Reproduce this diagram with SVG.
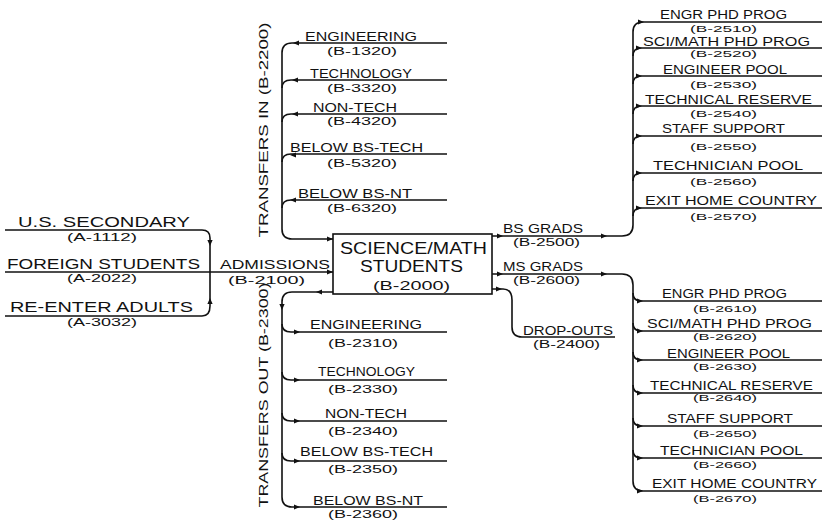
<svg xmlns="http://www.w3.org/2000/svg" xmlns:xlink="http://www.w3.org/1999/xlink" width="825" height="523" viewBox="0 0 825 523">
<style>
text{font-family:"Liberation Sans","DejaVu Sans",Arial,sans-serif;fill:#111;}
.lg{font-size:15px;}
.md{font-size:13px;}
.sm{font-size:12px;}
.cd{font-size:10px;}
.cs{font-size:9px;}
.bx{font-size:16px;}
.ln{fill:none;stroke:#111;stroke-width:1.6;}
.box{fill:#fff;stroke:#111;stroke-width:1.6;}
.ar{fill:#111;}
</style>
<defs>
<path id="ah" class="ar" d="M0,0 L-6,-2.6 L-6,2.6 Z"/>
</defs>
<rect width="825" height="523" fill="#fff"/>

<g id="connectors">
<!-- inputs -->
<path class="ln" d="M5,230 H202 Q210,230 210,238 V306 Q210,316 202,316 H5"/>
<path class="ln" d="M5,272 H333"/>
<use xlink:href="#ah" transform="translate(210,246) rotate(90)"/>
<use xlink:href="#ah" transform="translate(210,298) rotate(-90)"/>
<use xlink:href="#ah" transform="translate(333,272)"/>
<!-- transfers in -->
<path class="ln" d="M447,43 H292 Q282,43 282,53 V229 Q282,239 292,239 H333"/>
<path class="ln" d="M447,80 H291 Q282,80 282,88"/>
<path class="ln" d="M447,114 H291 Q282,114 282,122"/>
<path class="ln" d="M447,154 H291 Q282,154 282,162"/>
<path class="ln" d="M447,200 H291 Q282,200 282,208"/>
<use xlink:href="#ah" transform="translate(293,43) rotate(180)"/>
<use xlink:href="#ah" transform="translate(292,80) rotate(180)"/>
<use xlink:href="#ah" transform="translate(292,114) rotate(180)"/>
<use xlink:href="#ah" transform="translate(290,155) rotate(180)"/>
<use xlink:href="#ah" transform="translate(290,200) rotate(180)"/>
<use xlink:href="#ah" transform="translate(333,239)"/>
<!-- transfers out -->
<path class="ln" d="M333,292 H292 Q282,292 282,302 V497 Q282,507 292,507 H447"/>
<path class="ln" d="M282,324 Q282,332 291,332 H447"/>
<path class="ln" d="M282,372 Q282,380 291,380 H447"/>
<path class="ln" d="M282,413 Q282,421 291,421 H447"/>
<path class="ln" d="M282,453 Q282,461 291,461 H447"/>
<use xlink:href="#ah" transform="translate(316,292) rotate(180)"/>
<use xlink:href="#ah" transform="translate(282,310) rotate(90)"/>
<use xlink:href="#ah" transform="translate(300,332)"/>
<use xlink:href="#ah" transform="translate(300,380)"/>
<use xlink:href="#ah" transform="translate(300,421)"/>
<use xlink:href="#ah" transform="translate(300,461)"/>
<use xlink:href="#ah" transform="translate(300,507)"/>
<!-- BS grads -->
<path class="ln" d="M492,236 H622 Q633,236 633,225 V32 Q633,22 643,22 H822"/>
<path class="ln" d="M633,56 Q633,48 641,48 H822"/>
<path class="ln" d="M633,84 Q633,76 641,76 H822"/>
<path class="ln" d="M633,114 Q633,106 641,106 H822"/>
<path class="ln" d="M633,144 Q633,136 641,136 H822"/>
<path class="ln" d="M633,181 Q633,173 641,173 H822"/>
<path class="ln" d="M633,216 Q633,208 641,208 H822"/>
<use xlink:href="#ah" transform="translate(503,236)"/>
<use xlink:href="#ah" transform="translate(607,236)"/>
<use xlink:href="#ah" transform="translate(644,22)"/>
<use xlink:href="#ah" transform="translate(642,48)"/>
<use xlink:href="#ah" transform="translate(642,76)"/>
<use xlink:href="#ah" transform="translate(642,106)"/>
<use xlink:href="#ah" transform="translate(642,136)"/>
<use xlink:href="#ah" transform="translate(642,173)"/>
<use xlink:href="#ah" transform="translate(642,208)"/>
<!-- MS grads -->
<path class="ln" d="M492,274 H622 Q633,274 633,285 V481 Q633,491 643,491 H822"/>
<path class="ln" d="M633,293 Q633,301 641,301 H822"/>
<path class="ln" d="M633,323 Q633,331 641,331 H822"/>
<path class="ln" d="M633,352 Q633,360 641,360 H822"/>
<path class="ln" d="M633,385 Q633,393 641,393 H822"/>
<path class="ln" d="M633,418 Q633,426 641,426 H822"/>
<path class="ln" d="M633,450 Q633,458 641,458 H822"/>
<use xlink:href="#ah" transform="translate(503,274)"/>
<use xlink:href="#ah" transform="translate(607,274)"/>
<use xlink:href="#ah" transform="translate(643,301)"/>
<use xlink:href="#ah" transform="translate(643,331)"/>
<use xlink:href="#ah" transform="translate(643,360)"/>
<use xlink:href="#ah" transform="translate(643,393)"/>
<use xlink:href="#ah" transform="translate(643,426)"/>
<use xlink:href="#ah" transform="translate(643,458)"/>
<use xlink:href="#ah" transform="translate(643,491)"/>
<!-- drop-outs -->
<path class="ln" d="M492,289 H503 Q512,289 512,300 V327 Q512,337 522,337 H615"/>
<use xlink:href="#ah" transform="translate(502,289)"/>
</g>

<g id="us-secondary">
<text class="lg" x="18" y="227" textLength="172" lengthAdjust="spacingAndGlyphs">U.S. SECONDARY</text>
<text class="cd" x="67" y="241" textLength="70" lengthAdjust="spacingAndGlyphs">(A-1112)</text>
</g>
<g id="foreign-students">
<text class="lg" x="7" y="269" textLength="193" lengthAdjust="spacingAndGlyphs">FOREIGN STUDENTS</text>
<text class="cd" x="67" y="282" textLength="70" lengthAdjust="spacingAndGlyphs">(A-2022)</text>
</g>
<g id="re-enter-adults">
<text class="lg" x="10" y="312" textLength="183" lengthAdjust="spacingAndGlyphs">RE-ENTER ADULTS</text>
<text class="cd" x="67" y="326" textLength="70" lengthAdjust="spacingAndGlyphs">(A-3032)</text>
</g>
<g id="admissions">
<text class="md" x="220" y="269" textLength="110" lengthAdjust="spacingAndGlyphs">ADMISSIONS</text>
<text class="cd" x="228" y="284" textLength="77" lengthAdjust="spacingAndGlyphs">(B-2100)</text>
</g>

<g id="science-math-students">
<rect class="box" x="333" y="234" width="159" height="60"/>
<text class="bx" x="340" y="254" textLength="147" lengthAdjust="spacingAndGlyphs">SCIENCE/MATH</text>
<text class="bx" x="360" y="272" textLength="103" lengthAdjust="spacingAndGlyphs">STUDENTS</text>
<text class="md" x="373" y="290" textLength="77" lengthAdjust="spacingAndGlyphs">(B-2000)</text>
</g>

<g id="transfers-in">
<text class="md" transform="rotate(-90 268 130)" x="268" y="130" text-anchor="middle" textLength="215" lengthAdjust="spacingAndGlyphs">TRANSFERS IN (B-2200)</text>
</g>
<g id="tin-engineering">
<text class="md" x="305" y="41" textLength="112" lengthAdjust="spacingAndGlyphs">ENGINEERING</text>
<text class="cd" x="327" y="55" textLength="70" lengthAdjust="spacingAndGlyphs">(B-1320)</text>
</g>
<g id="tin-technology">
<text class="md" x="310" y="78" textLength="102" lengthAdjust="spacingAndGlyphs">TECHNOLOGY</text>
<text class="cd" x="327" y="92" textLength="70" lengthAdjust="spacingAndGlyphs">(B-3320)</text>
</g>
<g id="tin-non-tech">
<text class="md" x="313" y="112" textLength="84" lengthAdjust="spacingAndGlyphs">NON-TECH</text>
<text class="cd" x="327" y="125" textLength="70" lengthAdjust="spacingAndGlyphs">(B-4320)</text>
</g>
<g id="tin-below-bs-tech">
<text class="md" x="290" y="152" textLength="133" lengthAdjust="spacingAndGlyphs">BELOW BS-TECH</text>
<text class="cd" x="327" y="167" textLength="70" lengthAdjust="spacingAndGlyphs">(B-5320)</text>
</g>
<g id="tin-below-bs-nt">
<text class="md" x="298" y="198" textLength="114" lengthAdjust="spacingAndGlyphs">BELOW BS-NT</text>
<text class="cd" x="327" y="212" textLength="70" lengthAdjust="spacingAndGlyphs">(B-6320)</text>
</g>

<g id="transfers-out">
<text class="md" transform="rotate(-90 268 395)" x="268" y="395" text-anchor="middle" textLength="225" lengthAdjust="spacingAndGlyphs">TRANSFERS OUT (B-2300)</text>
</g>
<g id="tout-engineering">
<text class="md" x="310" y="329" textLength="112" lengthAdjust="spacingAndGlyphs">ENGINEERING</text>
<text class="cd" x="328" y="347" textLength="70" lengthAdjust="spacingAndGlyphs">(B-2310)</text>
</g>
<g id="tout-technology">
<text class="md" x="318" y="376" textLength="97" lengthAdjust="spacingAndGlyphs">TECHNOLOGY</text>
<text class="cd" x="328" y="393" textLength="70" lengthAdjust="spacingAndGlyphs">(B-2330)</text>
</g>
<g id="tout-non-tech">
<text class="md" x="325" y="418" textLength="82" lengthAdjust="spacingAndGlyphs">NON-TECH</text>
<text class="cd" x="328" y="435" textLength="70" lengthAdjust="spacingAndGlyphs">(B-2340)</text>
</g>
<g id="tout-below-bs-tech">
<text class="md" x="300" y="456" textLength="133" lengthAdjust="spacingAndGlyphs">BELOW BS-TECH</text>
<text class="cd" x="328" y="473" textLength="70" lengthAdjust="spacingAndGlyphs">(B-2350)</text>
</g>
<g id="tout-below-bs-nt">
<text class="md" x="313" y="505" textLength="110" lengthAdjust="spacingAndGlyphs">BELOW BS-NT</text>
<text class="cd" x="328" y="518" textLength="70" lengthAdjust="spacingAndGlyphs">(B-2360)</text>
</g>

<g id="bs-grads">
<text class="md" x="503" y="233" textLength="80" lengthAdjust="spacingAndGlyphs">BS GRADS</text>
<text class="cd" x="513" y="246" textLength="67" lengthAdjust="spacingAndGlyphs">(B-2500)</text>
</g>
<g id="ms-grads">
<text class="md" x="503" y="271" textLength="80" lengthAdjust="spacingAndGlyphs">MS GRADS</text>
<text class="cd" x="513" y="284" textLength="67" lengthAdjust="spacingAndGlyphs">(B-2600)</text>
</g>
<g id="drop-outs">
<text class="md" x="523" y="335" textLength="90" lengthAdjust="spacingAndGlyphs">DROP-OUTS</text>
<text class="cd" x="533" y="348" textLength="67" lengthAdjust="spacingAndGlyphs">(B-2400)</text>
</g>

<g id="bs-engr-phd">
<text class="sm" x="660" y="19" textLength="127" lengthAdjust="spacingAndGlyphs">ENGR PHD PROG</text>
<text class="cs" x="690" y="32" textLength="67" lengthAdjust="spacingAndGlyphs">(B-2510)</text>
</g>
<g id="bs-scimath-phd">
<text class="sm" x="643" y="46" textLength="167" lengthAdjust="spacingAndGlyphs">SCI/MATH PHD PROG</text>
<text class="cs" x="690" y="57" textLength="67" lengthAdjust="spacingAndGlyphs">(B-2520)</text>
</g>
<g id="bs-engineer-pool">
<text class="sm" x="663" y="74" textLength="124" lengthAdjust="spacingAndGlyphs">ENGINEER POOL</text>
<text class="cs" x="690" y="88" textLength="67" lengthAdjust="spacingAndGlyphs">(B-2530)</text>
</g>
<g id="bs-technical-reserve">
<text class="sm" x="645" y="104" textLength="167" lengthAdjust="spacingAndGlyphs">TECHNICAL RESERVE</text>
<text class="cs" x="690" y="117" textLength="67" lengthAdjust="spacingAndGlyphs">(B-2540)</text>
</g>
<g id="bs-staff-support">
<text class="sm" x="662" y="133" textLength="123" lengthAdjust="spacingAndGlyphs">STAFF SUPPORT</text>
<text class="cs" x="690" y="150" textLength="67" lengthAdjust="spacingAndGlyphs">(B-2550)</text>
</g>
<g id="bs-technician-pool">
<text class="sm" x="653" y="170" textLength="150" lengthAdjust="spacingAndGlyphs">TECHNICIAN POOL</text>
<text class="cs" x="690" y="185" textLength="67" lengthAdjust="spacingAndGlyphs">(B-2560)</text>
</g>
<g id="bs-exit-home">
<text class="sm" x="645" y="205" textLength="172" lengthAdjust="spacingAndGlyphs">EXIT HOME COUNTRY</text>
<text class="cs" x="690" y="220" textLength="67" lengthAdjust="spacingAndGlyphs">(B-2570)</text>
</g>

<g id="ms-engr-phd">
<text class="sm" x="662" y="298" textLength="125" lengthAdjust="spacingAndGlyphs">ENGR PHD PROG</text>
<text class="cs" x="693" y="312" textLength="64" lengthAdjust="spacingAndGlyphs">(B-2610)</text>
</g>
<g id="ms-scimath-phd">
<text class="sm" x="647" y="328" textLength="165" lengthAdjust="spacingAndGlyphs">SCI/MATH PHD PROG</text>
<text class="cs" x="693" y="340" textLength="64" lengthAdjust="spacingAndGlyphs">(B-2620)</text>
</g>
<g id="ms-engineer-pool">
<text class="sm" x="667" y="358" textLength="123" lengthAdjust="spacingAndGlyphs">ENGINEER POOL</text>
<text class="cs" x="693" y="370" textLength="64" lengthAdjust="spacingAndGlyphs">(B-2630)</text>
</g>
<g id="ms-technical-reserve">
<text class="sm" x="650" y="390" textLength="163" lengthAdjust="spacingAndGlyphs">TECHNICAL RESERVE</text>
<text class="cs" x="693" y="401" textLength="64" lengthAdjust="spacingAndGlyphs">(B-2640)</text>
</g>
<g id="ms-staff-support">
<text class="sm" x="667" y="423" textLength="126" lengthAdjust="spacingAndGlyphs">STAFF SUPPORT</text>
<text class="cs" x="693" y="437" textLength="64" lengthAdjust="spacingAndGlyphs">(B-2650)</text>
</g>
<g id="ms-technician-pool">
<text class="sm" x="660" y="455" textLength="143" lengthAdjust="spacingAndGlyphs">TECHNICIAN POOL</text>
<text class="cs" x="693" y="468" textLength="64" lengthAdjust="spacingAndGlyphs">(B-2660)</text>
</g>
<g id="ms-exit-home">
<text class="sm" x="652" y="488" textLength="165" lengthAdjust="spacingAndGlyphs">EXIT HOME COUNTRY</text>
<text class="cs" x="693" y="502" textLength="64" lengthAdjust="spacingAndGlyphs">(B-2670)</text>
</g>
</svg>
